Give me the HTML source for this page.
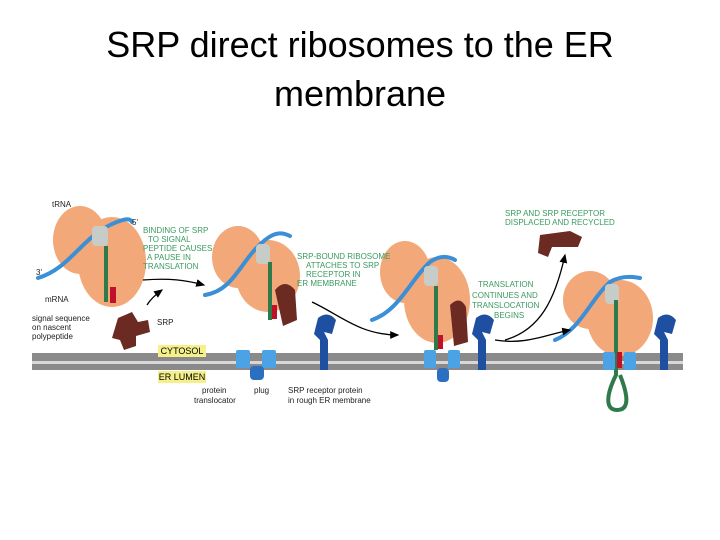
<!DOCTYPE html>
<html><head><style>
body{margin:0;width:720px;height:540px;background:#fff;overflow:hidden;font-family:"Liberation Sans",sans-serif}
.t{position:absolute;width:720px;text-align:center;font-size:36px;color:#000;left:0}
</style></head><body>
<div class="t" style="top:24px">SRP direct ribosomes to the ER</div>
<div class="t" style="top:73px">membrane</div>
<svg style="position:absolute;left:0;top:0" width="720" height="540" font-family="Liberation Sans, sans-serif">
<defs><marker id="a" markerWidth="8" markerHeight="8" refX="6" refY="4" orient="auto"><path d="M0 1 L7 4 L0 7z" fill="#000"/></marker></defs>
<!-- membrane -->
<rect x="32" y="353" width="651" height="8" fill="#8a8a8a"/>
<rect x="32" y="361" width="651" height="3" fill="#d8d8d8"/>
<rect x="32" y="364" width="651" height="6" fill="#8a8a8a"/>
<rect x="158" y="345" width="48" height="12" fill="#f5f08a"/>
<text x="182" y="354" font-size="9" text-anchor="middle">CYTOSOL</text>
<rect x="158" y="371" width="48" height="12" fill="#f5f08a"/>
<text x="182" y="380" font-size="9" text-anchor="middle">ER LUMEN</text>
<g fill="#f2a878">
<ellipse cx="80" cy="240" rx="27" ry="34"/><ellipse cx="112" cy="262" rx="34" ry="45"/>
<ellipse cx="238" cy="257" rx="26" ry="31"/><ellipse cx="268" cy="276" rx="32" ry="36"/>
<ellipse cx="405" cy="272" rx="25" ry="31"/><ellipse cx="437" cy="300" rx="33" ry="43"/>
<ellipse cx="590" cy="300" rx="27" ry="29"/><ellipse cx="620" cy="318" rx="33" ry="38"/>
</g>
<!-- mRNA -->
<g stroke="#3a8fd6" stroke-width="4" fill="none" stroke-linecap="round">
<path d="M38 278 C70 268 80 240 110 225 C125 218 130 218 132 222"/>
<path d="M205 295 C235 290 240 260 265 240 C275 232 282 232 290 236"/>
<path d="M372 320 C400 310 410 280 430 262 C440 255 448 256 455 260"/>
<path d="M555 340 C580 330 590 300 610 282 C620 276 630 276 640 278"/>
</g>
<!-- tRNA -->
<g fill="#c8ccc8">
<rect x="92" y="226" width="16" height="20" rx="4"/><rect x="256" y="244" width="14" height="20" rx="4"/>
<rect x="424" y="266" width="14" height="20" rx="4"/><rect x="605" y="284" width="14" height="20" rx="4"/>
</g>
<!-- nascent chain -->
<g stroke="#2f7a4a" stroke-width="4" fill="none">
<path d="M106 246 V302"/><path d="M270 262 V320"/><path d="M436 286 V350"/>
<path d="M616 300 V375 C606 395 605 410 617 410 C630 410 628 395 620 375"/>
</g>
<g fill="#c0102a"><rect x="110" y="287" width="6" height="16"/><rect x="272" y="305" width="5" height="14"/><rect x="438" y="335" width="5" height="14"/><rect x="617" y="352" width="5" height="16"/></g>
<!-- SRP -->
<g fill="#6b2a22">
<path d="M118 318 l14 -6 6 10 10 -2 2 12 -14 4 0 10 -12 4 -4 -10 -8 -2z"/>
<path d="M275 290 q10 -12 20 0 l2 30 -14 6z"/>
<path d="M450 305 q10 -10 16 2 l2 35 -14 4z"/>
<path d="M540 235 l30 -4 12 6 -4 10 -26 0 -4 10 -10 -4z"/>
</g>
<!-- receptors -->
<g fill="#1e4fa0">
<path d="M318 318 q10 -8 18 2 l-4 14 -8 -2 4 8 0 30 -8 0 0 -30 -6 -6z"/>
<path d="M476 318 q10 -8 18 2 l-4 14 -8 -2 4 8 0 30 -8 0 0 -30 -6 -6z"/>
<path d="M658 318 q10 -8 18 2 l-4 14 -8 -2 4 8 0 30 -8 0 0 -30 -6 -6z"/>
</g>
<!-- translocators -->
<g fill="#4ba3e6">
<rect x="236" y="350" width="14" height="18" rx="2"/><rect x="262" y="350" width="14" height="18" rx="2"/>
<rect x="424" y="350" width="12" height="18" rx="2"/><rect x="448" y="350" width="12" height="18" rx="2"/>
<rect x="603" y="352" width="12" height="18" rx="2"/><rect x="624" y="352" width="12" height="18" rx="2"/>
</g>
<g fill="#2b6fc0"><rect x="250" y="366" width="14" height="14" rx="4"/><rect x="437" y="368" width="12" height="14" rx="4"/></g>
<!-- arrows -->
<g stroke="#000" stroke-width="1.3" fill="none">
<path d="M143 280 C170 278 185 280 204 285" marker-end="url(#a)"/><path d="M147 305 C150 300 155 295 162 290" marker-end="url(#a)"/>
<path d="M312 302 C340 315 360 335 398 335" marker-end="url(#a)"/>
<path d="M495 340 C525 345 545 335 570 330" marker-end="url(#a)"/><path d="M505 340 C540 330 555 300 565 255" marker-end="url(#a)"/>
</g>
<!-- labels -->
<g font-size="8" fill="#3a9a60">
<text x="143" y="233">BINDING OF SRP</text><text x="148" y="242">TO SIGNAL</text><text x="143" y="251">PEPTIDE CAUSES</text><text x="147" y="260">A PAUSE IN</text><text x="143" y="269">TRANSLATION</text>
<text x="297" y="259">SRP-BOUND RIBOSOME</text><text x="306" y="268">ATTACHES TO SRP</text><text x="306" y="277">RECEPTOR IN</text><text x="297" y="286">ER MEMBRANE</text>
<text x="505" y="216">SRP AND SRP RECEPTOR</text><text x="505" y="225">DISPLACED AND RECYCLED</text>
<text x="478" y="287">TRANSLATION</text><text x="472" y="298">CONTINUES AND</text><text x="472" y="308">TRANSLOCATION</text><text x="494" y="318">BEGINS</text>
</g>
<g font-size="8" fill="#222">
<text x="52" y="207">tRNA</text><text x="132" y="225">5'</text><text x="36" y="275">3'</text><text x="45" y="302">mRNA</text>
<text x="32" y="321">signal sequence</text><text x="32" y="330">on nascent</text><text x="32" y="339">polypeptide</text>
<text x="157" y="325">SRP</text>
<text x="202" y="393">protein</text><text x="194" y="403">translocator</text><text x="254" y="393">plug</text>
<text x="288" y="393">SRP receptor protein</text><text x="288" y="403">in rough ER membrane</text>
</g>
</svg>
</body></html>
